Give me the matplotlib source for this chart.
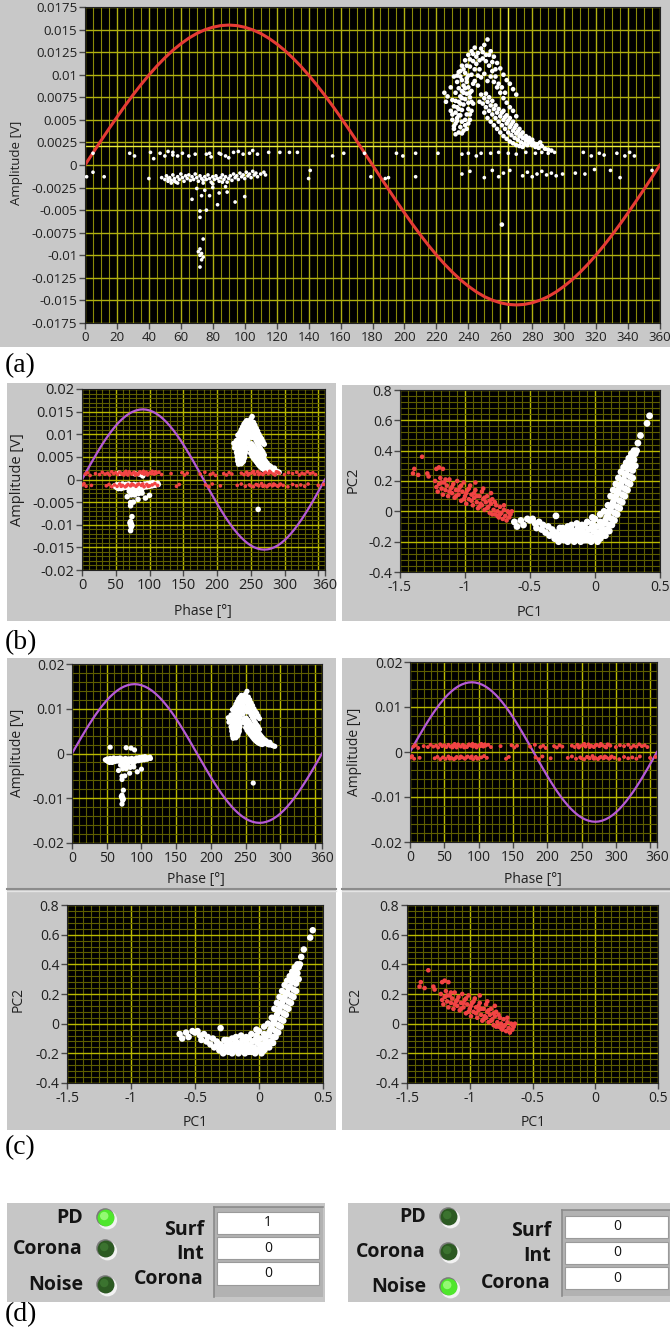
import matplotlib
matplotlib.use('Agg')
import matplotlib.pyplot as plt
from matplotlib.patches import Rectangle, Circle
import numpy as np

W, H = 670, 1339
plt.rcParams['font.family'] = ['Open Sans', 'DejaVu Sans']

# ---------------- data ----------------
SINE_PHASE = list(range(0, 361, 5))
SINE_MV = [0, 1.35, 2.69, 4.01, 5.30, 6.55, 7.75, 8.89, 9.96, 10.96, 11.87, 12.70, 13.42, 14.05, 14.57, 14.97, 15.26, 15.44, 15.50,
           15.44, 15.26, 14.97, 14.57, 14.05, 13.42, 12.70, 11.87, 10.96, 9.96, 8.89, 7.75, 6.55, 5.30, 4.01, 2.69, 1.35, 0,
           -1.35, -2.69, -4.01, -5.30, -6.55, -7.75, -8.89, -9.96, -10.96, -11.87, -12.70, -13.42, -14.05, -14.57, -14.97, -15.26, -15.44, -15.50,
           -15.44, -15.26, -14.97, -14.57, -14.05, -13.42, -12.70, -11.87, -10.96, -9.96, -8.89, -7.75, -6.55, -5.30, -4.01, -2.69, -1.35, 0]

# PD pulses (phase deg, amplitude mV)
PD_UPPER = [(231, 4.0), (232, 4.6), (233, 5.2), (232, 5.8), (233, 6.4), (234, 7.0), (235, 7.6), (236, 8.2), (237, 8.8),
            (234, 3.6), (235, 4.2), (236, 4.8), (235, 5.5), (236, 6.1), (237, 6.7), (238, 7.3), (239, 7.9), (240, 8.6),
            (237, 3.8), (238, 4.4), (238, 5.0), (239, 5.6), (240, 6.2), (240, 6.9), (241, 7.5), (242, 8.2), (243, 9.0),
            (234, 8.5), (233, 9.2), (235, 9.8), (232, 8.0), (230, 7.2), (229, 6.0), (230, 5.0), (241, 5.0), (242, 6.0), (243, 6.8),
            (231, 4.3), (233, 4.9), (234, 5.5), (234, 6.2), (235, 6.8), (236, 7.4), (237, 8.0), (238, 8.5), (239, 9.2),
            (240, 9.9), (232, 7.1), (231, 6.5), (230, 5.6), (232, 3.4), (236, 3.5), (239, 4.0), (240, 4.6), (241, 5.6),
            (242, 7.0), (241, 8.0),
            (234, 10.3), (236, 11.0), (238, 11.6), (240, 12.2), (242, 12.6), (244, 13.0), (246, 12.4), (248, 12.9), (250, 13.3),
            (252, 13.9), (254, 12.6), (256, 12.0), (258, 11.3), (260, 10.7), (262, 10.0), (264, 9.4), (238, 10.2), (241, 10.9),
            (243, 11.5), (245, 11.2), (247, 10.6), (249, 11.8), (251, 12.2), (253, 11.0), (255, 10.4), (257, 9.8), (259, 9.0),
            (261, 8.6), (263, 8.0), (266, 9.0), (268, 8.4), (270, 7.8), (236, 9.4), (239, 9.6), (242, 10.0), (244, 9.3),
            (246, 8.8), (248, 9.7), (250, 10.1), (252, 9.3), (225, 8.0), (227, 7.6), (229, 8.6), (231, 9.8), (226, 7.0),
            (245, 12.0), (247, 11.6), (249, 12.5), (251, 11.5), (253, 12.2), (255, 11.4), (257, 10.6), (243, 12.3),
            (241, 11.7), (239, 11.0), (237, 10.6), (235, 10.4), (233, 9.9), (246, 9.9), (244, 10.6), (254, 9.8),
            (256, 9.2), (258, 8.6), (260, 8.0), (262, 7.4), (264, 6.9), (266, 6.4), (268, 6.0), (270, 5.4),
            (247, 7.0), (248, 7.8), (249, 6.8), (250, 7.4), (251, 6.4), (252, 7.0), (253, 6.0), (254, 6.6), (255, 5.6),
            (256, 6.2), (257, 5.2), (258, 5.8), (259, 4.8), (260, 5.4), (261, 4.4), (262, 5.0), (263, 4.0), (264, 4.6),
            (265, 3.6), (266, 4.2), (267, 3.3), (268, 3.8), (269, 3.0), (270, 3.5), (271, 2.8), (272, 3.2), (273, 2.5),
            (274, 3.0), (275, 2.3), (276, 2.7), (277, 2.2), (278, 2.5), (250, 5.8), (252, 5.2), (254, 4.8), (256, 4.4),
            (258, 4.0), (260, 3.6), (262, 3.2), (264, 2.9), (266, 2.6), (268, 2.4), (270, 2.2), (272, 2.1), (274, 2.0),
            (280, 2.2), (282, 2.0), (284, 1.9), (286, 2.1), (288, 1.8), (290, 1.7), (292, 1.6), (270, 4.4), (272, 4.0),
            (274, 3.6), (276, 3.2), (278, 3.0), (280, 2.8), (266, 5.2), (268, 4.8), (262, 6.0), (264, 5.5),
            (251, 7.9), (253, 7.5), (255, 7.1), (257, 6.6), (259, 6.2), (261, 5.8), (263, 5.3), (265, 4.9), (267, 4.5),
            (269, 4.1), (271, 3.7), (273, 3.4), (275, 3.0), (277, 2.8), (279, 2.6), (281, 2.4), (283, 2.3), (285, 2.5),
            (261, -6.6)]

PD_LOWER = [(48, -1.4), (50, -1.6), (51, -1.2), (52, -1.8), (53, -1.4), (54, -1.7), (55, -1.1), (56, -1.5), (57, -1.9),
            (58, -1.3), (59, -1.6), (60, -1.0), (61, -1.4), (62, -1.8), (63, -1.2), (64, -1.5), (65, -1.1), (66, -1.7),
            (67, -1.3), (68, -1.6), (69, -1.0), (70, -1.4), (71, -1.8), (72, -1.2), (73, -1.5), (74, -1.7), (75, -1.3),
            (76, -1.6), (77, -1.1), (78, -1.5), (79, -1.9), (80, -1.3), (81, -1.6), (82, -1.2), (83, -1.5), (84, -1.8),
            (85, -1.4), (86, -1.1), (87, -1.6), (88, -1.3), (89, -1.9), (90, -1.5), (91, -1.2), (92, -1.7), (93, -1.0),
            (94, -1.4), (95, -1.2), (96, -1.6), (97, -0.9), (98, -1.3), (99, -1.1), (100, -1.5), (101, -0.8), (102, -1.2),
            (103, -1.0), (104, -1.4), (105, -0.7), (106, -1.1), (107, -0.9), (108, -1.3), (110, -1.0), (112, -0.8), (113, -1.1),
            (52, -1.5), (54, -2.0), (56, -1.8), (58, -2.0), (74, -2.0), (80, -2.1), (86, -1.9),
            (55, 1.4), (78, 1.3), (85, 1.2), (90, 0.8),
            (67, -3.8), (73, -3.4), (76, -5.0), (72, -5.1), (72, -5.8), (74, -8.2), (72, -9.3), (71, -9.6), (73, -9.8),
            (72, -10.0), (74, -10.2), (73, -10.5), (72, -11.3), (78, -3.4), (84, -3.1), (89, -3.0), (83, -4.4), (94, -4.1),
            (100, -3.5), (70, -2.6), (75, -2.8), (80, -2.5), (88, -2.4)]

# noise pulses shown in (a)
NOISE_A = [(5, 1.3), (28, 1.3), (31, 1.0), (41, 1.4), (43, 0.7), (47, 1.3), (50, 1.0), (52, 1.5), (55, 1.1), (58, 1.0),
           (61, 1.3), (65, 1.0), (69, 1.2), (76, 1.2), (79, 0.9), (84, 1.3), (88, 1.0), (93, 1.4), (96, 1.5), (99, 1.2),
           (103, 1.3), (105, 1.6), (108, 1.2), (115, 1.4), (122, 1.4), (128, 1.4), (133, 1.4), (155, 1.0), (162, 1.3),
           (175, 1.3), (195, 1.3), (199, 1.0), (207, 1.3), (221, 1.3), (236, 1.2), (240, 1.3), (245, 1.0), (248, 1.3),
           (254, 1.3), (259, 1.4), (265, 1.3), (270, 1.2), (276, 1.4), (282, 1.3), (286, 1.4), (290, 1.3), (294, 1.4),
           (312, 1.4), (317, 1.0), (322, 1.3), (325, 1.1), (333, 1.3), (338, 1.0), (341, 1.4), (344, 1.0),
           (1, -1.3), (5, -0.8), (12, -1.3), (40, -1.5), (140, -1.5), (141, -0.6), (179, -1.3), (188, -1.5), (190, -1.4),
           (207, -1.3), (236, -1.0), (241, -0.7), (250, -1.4), (255, -0.6), (259, -1.3), (262, -0.9), (266, -0.6),
           (274, -1.2), (277, -0.8), (280, -1.3), (283, -1.0), (286, -0.7), (289, -1.1), (292, -0.9), (295, -1.2),
           (299, -1.0), (307, -0.9), (313, -1.0), (319, -0.5), (329, -0.6), (335, -1.4), (355, -0.6)]

# noise pulses shown in (b) and (c)
NOISE_BC = [(5, 1.2), (8, 1.5), (12, 0.9), (20, 1.3), (26, 1.1), (30, 1.6), (34, 1.2), (38, 1.4), (41, 1.0), (44, 1.7),
            (47, 1.3), (50, 1.5), (53, 1.1), (56, 1.6), (59, 1.2), (62, 1.4), (65, 1.8), (68, 1.0), (71, 1.5), (74, 1.2),
            (77, 1.6), (80, 1.3), (83, 1.1), (86, 1.7), (89, 1.4), (92, 1.2), (95, 1.6), (98, 1.3), (101, 1.5), (104, 1.8),
            (107, 1.2), (110, 1.4), (114, 1.6), (118, 1.1), (132, 1.3), (148, 1.5), (152, 1.0), (156, 1.4), (175, 1.2),
            (182, 1.6), (190, 1.1), (194, 1.4), (198, 0.9), (210, 1.3), (214, 1.0), (218, 1.5), (222, 1.2), (236, 1.4),
            (240, 1.1), (244, 1.6), (248, 1.3), (252, 1.5), (256, 1.2), (260, 1.7), (264, 1.4), (268, 1.1), (272, 1.6),
            (276, 1.3), (280, 1.5), (284, 1.2), (288, 1.7), (292, 1.4), (300, 1.1), (306, 1.5), (312, 1.3), (318, 1.6),
            (322, 1.0), (326, 1.4), (330, 1.2), (334, 1.7), (338, 1.3), (342, 1.5), (346, 1.1),
            (1, -1.2), (3, -0.9), (6, -1.5), (14, -1.3), (36, -1.4), (40, -1.1), (44, -1.6), (48, -1.2), (52, -1.5),
            (56, -1.0), (60, -1.3), (64, -1.6), (68, -1.1), (72, -1.4), (76, -1.2), (80, -1.5), (84, -1.0), (88, -1.3),
            (92, -1.6), (96, -1.1), (100, -1.4), (104, -1.2), (108, -0.9), (112, -1.3), (140, -1.5), (144, -1.1),
            (183, -1.2), (188, -1.6), (193, -1.0), (205, -1.4), (230, -1.3), (236, -1.0), (242, -1.5), (248, -1.2),
            (254, -1.6), (258, -1.1), (262, -1.4), (266, -0.9), (270, -1.3), (274, -1.6), (278, -1.1), (282, -1.4),
            (286, -1.2), (290, -1.5), (294, -1.0), (298, -1.3), (305, -1.6), (312, -1.1), (318, -1.4), (324, -1.2),
            (330, -1.5), (335, -1.0), (350, -1.3), (358, -1.1),
            (62, 1.0), (66, 1.3), (70, 1.7), (79, 1.0), (85, 1.5), (91, 1.8), (97, 1.0), (103, 1.3), (109, 1.7),
            (246, 1.0), (254, 1.8), (262, 1.1), (270, 1.4), (278, 1.8), (286, 1.0), (290, 1.6), (58, -1.5), (66, -1.4),
            (74, -1.0), (82, -1.2), (90, -1.0), (98, -1.5), (250, -1.4), (260, -1.2), (268, -1.5), (276, -1.3),
            (284, -1.0), (292, -1.3)]

# principal components (PC1, PC2)
PCA_PD = [(-0.62, -0.07), (-0.60, -0.10), (-0.57, -0.06), (-0.55, -0.09), (-0.52, -0.05), (-0.50, -0.06), (-0.48, -0.05),
          (-0.46, -0.08), (-0.45, -0.11), (-0.43, -0.07), (-0.41, -0.12), (-0.40, -0.09), (-0.38, -0.14), (-0.36, -0.10),
          (-0.35, -0.16), (-0.33, -0.12), (-0.31, -0.18), (-0.30, -0.03), (-0.30, -0.14), (-0.28, -0.20), (-0.27, -0.11),
          (-0.25, -0.17),
          (-0.26, -0.15), (-0.24, -0.19), (-0.23, -0.13), (-0.22, -0.17), (-0.21, -0.20), (-0.20, -0.14), (-0.19, -0.18),
          (-0.18, -0.12), (-0.17, -0.16), (-0.16, -0.20), (-0.15, -0.14), (-0.14, -0.18), (-0.13, -0.11), (-0.12, -0.16),
          (-0.11, -0.20), (-0.10, -0.13), (-0.09, -0.17), (-0.08, -0.10), (-0.07, -0.15), (-0.06, -0.19), (-0.05, -0.12),
          (-0.04, -0.16), (-0.03, -0.20), (-0.02, -0.08), (-0.01, -0.13), (0.00, -0.17), (0.01, -0.10), (0.02, -0.20),
          (0.03, -0.14), (0.04, -0.18), (0.05, -0.11), (-0.18, -0.09), (-0.14, -0.08), (-0.10, -0.09), (-0.06, -0.07),
          (-0.02, -0.04), (0.00, -0.05), (-0.21, -0.10), (-0.25, -0.11), (-0.08, -0.19), (-0.12, -0.19), (-0.16, -0.17),
          (-0.20, -0.17), (0.02, -0.16), (-0.04, -0.19), (-0.01, -0.18), (0.04, -0.07), (0.06, -0.16),
          (0.04, -0.02), (0.05, -0.08), (0.06, -0.14), (0.07, 0.00), (0.08, -0.06), (0.09, -0.12), (0.10, 0.04),
          (0.10, -0.03), (0.11, -0.09), (0.12, 0.10), (0.12, 0.02), (0.13, -0.05), (0.14, 0.14), (0.14, 0.06),
          (0.15, -0.01), (0.16, 0.18), (0.16, 0.10), (0.17, 0.03), (0.18, 0.22), (0.18, 0.14), (0.19, 0.07),
          (0.20, 0.26), (0.20, 0.18), (0.21, 0.11), (0.22, 0.29), (0.22, 0.21), (0.23, 0.15), (0.24, 0.32),
          (0.24, 0.25), (0.25, 0.19), (0.26, 0.35), (0.26, 0.28), (0.27, 0.23), (0.28, 0.38), (0.28, 0.31),
          (0.29, 0.27), (0.30, 0.40), (0.30, 0.34), (0.31, 0.38), (0.33, 0.45), (0.35, 0.50), (0.40, 0.58), (0.42, 0.63),
          (0.05, -0.16), (0.07, -0.13), (0.08, -0.16), (0.11, -0.13), (0.13, -0.09), (0.15, -0.06), (0.17, -0.02),
          (0.19, 0.02), (0.21, 0.06), (0.23, 0.10), (0.25, 0.14), (0.27, 0.18), (0.29, 0.22), (0.31, 0.30),
          (0.32, 0.40), (0.29, 0.36), (0.27, 0.32), (0.25, 0.29), (0.23, 0.24), (0.21, 0.20), (0.19, 0.16),
          (0.17, 0.12), (0.15, 0.08), (0.13, 0.04), (0.11, 0.00), (0.09, -0.04), (0.07, -0.08), (-0.09, -0.14),
          (-0.13, -0.15), (-0.17, -0.13), (-0.03, -0.11), (0.01, -0.14), (-0.22, -0.14), (-0.33, -0.15), (-0.29, -0.17)]

PCA_NOISE = [(-1.40, 0.25), (-1.39, 0.28), (-1.36, 0.24), (-1.33, 0.36), (-1.29, 0.25), (-1.28, 0.23), (-1.22, 0.28),
             (-1.20, 0.29), (-1.17, 0.28), (-1.23, 0.20), (-1.22, 0.16), (-1.21, 0.13), (-1.20, 0.18), (-1.19, 0.22),
             (-1.18, 0.15), (-1.17, 0.11), (-1.16, 0.19), (-1.15, 0.14), (-1.14, 0.17), (-1.13, 0.10), (-1.12, 0.21),
             (-1.11, 0.15), (-1.10, 0.12), (-1.09, 0.18), (-1.08, 0.09), (-1.07, 0.14), (-1.06, 0.20), (-1.05, 0.11),
             (-1.04, 0.16), (-1.03, 0.07), (-1.02, 0.13), (-1.01, 0.19), (-1.00, 0.10), (-0.99, 0.05), (-0.98, 0.14),
             (-0.97, 0.08), (-0.96, 0.17), (-0.95, 0.11), (-0.94, 0.04), (-0.93, 0.09), (-0.92, 0.14), (-0.91, 0.06),
             (-0.90, 0.02), (-0.89, 0.10), (-0.88, 0.05), (-0.87, 0.13), (-0.86, 0.08), (-0.85, 0.01), (-0.84, 0.06),
             (-0.83, 0.10), (-0.82, 0.03), (-0.81, -0.01), (-0.80, 0.05), (-0.79, 0.08), (-0.78, 0.01), (-0.77, -0.02),
             (-0.76, 0.04), (-0.75, 0.00), (-0.74, -0.04), (-0.73, 0.03), (-0.72, -0.01), (-0.71, -0.05), (-0.70, 0.01),
             (-0.69, -0.03), (-0.68, -0.06), (-0.67, 0.00), (-0.66, -0.04), (-0.65, -0.02), (-0.64, 0.00),
             (-1.18, 0.19), (-1.15, 0.21), (-1.12, 0.13), (-1.10, 0.16), (-1.07, 0.10), (-1.05, 0.14), (-1.03, 0.17),
             (-1.01, 0.08), (-0.99, 0.12), (-0.97, 0.15), (-0.95, 0.07), (-0.93, 0.12), (-0.91, 0.10), (-0.89, 0.03),
             (-0.87, 0.04), (-0.85, 0.09), (-0.83, 0.02), (-0.81, 0.07), (-0.79, -0.02), (-0.77, 0.06), (-0.75, -0.03),
             (-0.73, -0.02), (-0.80, 0.12), (-0.86, 0.15), (-0.92, 0.19), (-0.70, 0.04), (-0.66, -0.01)]

CURSOR_PHASE = 265
CURSOR_MV = 2.1

# tick values / labels
A_XTICKS = list(range(0, 361, 20))
A_YTICKS = [-0.0175, -0.015, -0.0125, -0.01, -0.0075, -0.005, -0.0025, 0, 0.0025, 0.005, 0.0075, 0.01, 0.0125, 0.015, 0.0175]
A_YLABELS = ['-0.0175', '-0.015', '-0.0125', '-0.01', '-0.0075', '-0.005', '-0.0025', '0', '0.0025', '0.005', '0.0075',
             '0.01', '0.0125', '0.015', '0.0175']
PH_TICKS = [0, 50, 100, 150, 200, 250, 300, 350, 360]
PH_LABELS = ['0', '50', '100', '150', '200', '250', '300', '', '360']
B_YTICKS = [-0.02, -0.015, -0.01, -0.005, 0, 0.005, 0.01, 0.015, 0.02]
B_YLABELS = ['-0.02', '-0.015', '-0.01', '-0.005', '0', '0.005', '0.01', '0.015', '0.02']
C_YTICKS = [-0.02, -0.01, 0, 0.01, 0.02]
C_YLABELS = ['-0.02', '-0.01', '0', '0.01', '0.02']
PC1_TICKS = [-1.5, -1, -0.5, 0, 0.5]
PC1_LABELS = ['-1.5', '-1', '-0.5', '0', '0.5']
PC2_TICKS = [-0.4, -0.2, 0, 0.2, 0.4, 0.6, 0.8]
PC2_LABELS = ['-0.4', '-0.2', '0', '0.2', '0.4', '0.6', '0.8']

LED_NAMES = ['PD', 'Corona', 'Noise']
LED_LEFT = [1, 0, 0]
LED_RIGHT = [0, 0, 1]
CLASS_NAMES = ['Surf', 'Int', 'Corona']
COUNT_LEFT = ['1', '0', '0']
COUNT_RIGHT = ['0', '0', '0']

# ---------------- helpers ----------------
def xy(pairs, scale=1.0):
    a = np.array(pairs, dtype=float)
    return a[:, 0], a[:, 1] * scale

GRAY = '#c8c8c8'
WHITE_PT = '#ffffff'
RED_PT = '#f24444'
SINE_RED = '#e63b35'
SINE_PURPLE = '#b65ad6'

fig = plt.figure(figsize=(W / 100, H / 100), dpi=100)
fig.patch.set_facecolor('white')
ov = fig.add_axes([0, 0, 1, 1])
ov.set_xlim(0, W)
ov.set_ylim(H, 0)
ov.axis('off')
ov.set_zorder(0)


def px_axes(l, t, r, b):
    ax = fig.add_axes([l / W, 1 - b / H, (r - l) / W, (b - t) / H])
    ax.set_zorder(2)
    return ax


def style(ax, xlim, ylim, xmaj, xlab, ymaj, ylab, xmin, ymin, fs, majc, minc):
    ax.set_facecolor('black')
    ax.set_xticks(xmaj)
    ax.set_xticklabels(xlab)
    ax.set_yticks(ymaj)
    ax.set_yticklabels(ylab)
    ax.set_xticks(xmin, minor=True)
    ax.set_yticks(ymin, minor=True)
    ax.set_xlim(*xlim)
    ax.set_ylim(*ylim)
    ax.grid(True, which='minor', color=minc, lw=0.8)
    ax.grid(True, which='major', color=majc, lw=1.0)
    ax.set_axisbelow(True)
    ax.tick_params(which='minor', length=0)
    ax.tick_params(which='major', direction='out', length=4, width=1, color='#4a4a4a',
                   labelsize=fs, labelcolor='#202020', pad=1.5)
    for s in ax.spines.values():
        s.set_color('#222222')


def box(l, t, r, b, color=GRAY):
    ov.add_patch(Rectangle((l, t), r - l, b - t, facecolor=color, edgecolor='none'))


def panel_label(y, s):
    ov.text(5, y, s, family='Liberation Serif', fontsize=20, va='center', ha='left', color='black')


def vlabel(x, y, s, fs):
    ov.text(x, y, s, rotation=90, ha='center', va='center', fontsize=fs, color='#202020')


def hlabel(x, y, s, fs):
    ov.text(x, y, s, ha='center', va='center', fontsize=fs, color='#202020')


phase_minor = list(range(0, 361, 10))
amp_b_minor = list(np.arange(-20, 21, 1) * 1e-3)
amp_c_minor = list(np.arange(-20, 21, 2) * 1e-3)
pc1_minor = list(np.arange(-1.5, 0.51, 0.0625))
pc2_minor = list(np.arange(-0.4, 0.81, 0.04))

MAJ = '#b9b900'
MIN = '#5e5e00'

sx, sy = SINE_PHASE, np.array(SINE_MV) * 1e-3

# ---------------- (a) ----------------
box(0, 0, 670, 347)
axa = px_axes(85, 7, 660, 323)
style(axa, (0, 360), (-0.0175, 0.0175), A_XTICKS, [str(v) for v in A_XTICKS], A_YTICKS, A_YLABELS,
      list(range(0, 361, 5)), [], 9.5, '#b0b010', '#8a8a08')
axa.axvline(CURSOR_PHASE, color='#eded3a', lw=1.0)
axa.axhline(CURSOR_MV * 1e-3, color='#eded3a', lw=1.0)
axa.plot(sx, sy, color=SINE_RED, lw=2.2)
x, y = xy(PD_UPPER, 1e-3)
axa.scatter(x, y, s=11, color=WHITE_PT, edgecolors='none', zorder=4)
for pairs in (PD_LOWER, NOISE_A):
    x, y = xy(pairs, 1e-3)
    axa.scatter(x, y, s=7, color=WHITE_PT, edgecolors='none', zorder=4)
vlabel(17, 163, 'Amplitude [V]', 9.5)
panel_label(366, '(a)')

# ---------------- (b) ----------------
box(7, 383, 336, 621)
box(342, 385, 670, 621)
axb1 = px_axes(82, 389, 325, 570)
style(axb1, (0, 360), (-0.02, 0.02), PH_TICKS, PH_LABELS, B_YTICKS, B_YLABELS,
      phase_minor, amp_b_minor, 10.5, MAJ, MIN)
axb1.plot(sx, sy, color=SINE_PURPLE, lw=1.6)
for pairs in (PD_UPPER, PD_LOWER):
    x, y = xy(pairs, 1e-3)
    axb1.scatter(x, y, s=16, color=WHITE_PT, edgecolors='none', zorder=4)
x, y = xy(NOISE_BC, 1e-3)
axb1.scatter(x, y, s=7, color=RED_PT, edgecolors='none', zorder=5)
vlabel(18, 480, 'Amplitude [V]', 10.5)
hlabel(203, 612, 'Phase [°]', 10)

axb2 = px_axes(400, 390, 660, 572)
style(axb2, (-1.5, 0.5), (-0.4, 0.8), PC1_TICKS, PC1_LABELS, PC2_TICKS, PC2_LABELS,
      pc1_minor, pc2_minor, 10, MAJ, MIN)
x, y = xy(PCA_PD)
axb2.scatter(x, y, s=24, color=WHITE_PT, edgecolors='none', zorder=4)
x, y = xy(PCA_NOISE)
axb2.scatter(x, y, s=11, color=RED_PT, edgecolors='none', zorder=5)
vlabel(353, 480, 'PC2', 10.5)
hlabel(530, 613, 'PC1', 10.5)
panel_label(643, '(b)')

# ---------------- (c) ----------------
box(7, 658, 336, 1130)
box(342, 658, 670, 1130)
for (l, r) in ((7, 336), (342, 670)):
    ov.plot([l, r], [889, 889], color='#8c8c8c', lw=1.5)
    ov.plot([l, r], [891, 891], color='#e4e4e4', lw=1.0)

axc1 = px_axes(72, 664, 322, 843)
style(axc1, (0, 360), (-0.02, 0.02), PH_TICKS, PH_LABELS, C_YTICKS, C_YLABELS,
      phase_minor, amp_c_minor, 10, MAJ, MIN)
axc1.plot(sx, sy, color=SINE_PURPLE, lw=1.6)
for pairs in (PD_UPPER, PD_LOWER):
    x, y = xy(pairs, 1e-3)
    axc1.scatter(x, y, s=14, color=WHITE_PT, edgecolors='none', zorder=4)
vlabel(18, 753, 'Amplitude [V]', 10)
hlabel(196, 880, 'Phase [°]', 10)

axc2 = px_axes(410, 662, 657, 842)
style(axc2, (0, 360), (-0.02, 0.02), PH_TICKS, PH_LABELS, C_YTICKS, C_YLABELS,
      phase_minor, amp_c_minor, 10, MAJ, MIN)
axc2.plot(sx, sy, color=SINE_PURPLE, lw=1.6)
x, y = xy(NOISE_BC, 1e-3)
axc2.scatter(x, y, s=8, color=RED_PT, edgecolors='none', zorder=5)
vlabel(355, 752, 'Amplitude [V]', 10)
hlabel(533, 880, 'Phase [°]', 10)

axc3 = px_axes(67, 905, 323, 1083)
style(axc3, (-1.5, 0.5), (-0.4, 0.8), PC1_TICKS, PC1_LABELS, PC2_TICKS, PC2_LABELS,
      pc1_minor, pc2_minor, 10, MAJ, MIN)
x, y = xy(PCA_PD)
axc3.scatter(x, y, s=22, color=WHITE_PT, edgecolors='none', zorder=4)
vlabel(18, 1000, 'PC2', 10)
hlabel(195, 1122, 'PC1', 10)

axc4 = px_axes(407, 905, 658, 1083)
style(axc4, (-1.5, 0.5), (-0.4, 0.8), PC1_TICKS, PC1_LABELS, PC2_TICKS, PC2_LABELS,
      pc1_minor, pc2_minor, 10, MAJ, MIN)
x, y = xy(PCA_NOISE)
axc4.scatter(x, y, s=11, color=RED_PT, edgecolors='none', zorder=5)
vlabel(355, 1000, 'PC2', 10)
hlabel(533, 1122, 'PC1', 10)
panel_label(1148, '(c)')

# ---------------- (d) ----------------
def indicator_panel(l, r, label_x, led_x, led_ys, leds, cls_x, cls_ys, frame, rows, val_x, counts):
    box(l, 1203, r, 1302, '#c6c6c6')
    for name, on, yy in zip(LED_NAMES, leds, led_ys):
        ov.text(label_x, yy, name, ha='right', va='center', fontsize=14, fontweight='bold', color='#141414')
        ov.add_patch(Circle((led_x + 1.5, yy + 1.8), 9.6, facecolor='#f2f2f2', edgecolor='none'))
        ov.add_patch(Circle((led_x - 0.8, yy - 0.8), 9.0, facecolor='#7a7a7a', edgecolor='none'))
        main = '#4fe62c' if on else '#2c5a22'
        hi = '#a6ff86' if on else '#3f7a33'
        ov.add_patch(Circle((led_x, yy), 8.4, facecolor=main, edgecolor='none'))
        ov.add_patch(Circle((led_x - 1.8, yy - 2.0), 4.2, facecolor=hi, edgecolor='none', alpha=0.8))
    fl, ft, fr, fb = frame
    ov.add_patch(Rectangle((fl, ft), fr - fl, fb - ft, facecolor='#b2b2b2', edgecolor='none'))
    ov.plot([fl, fr], [ft, ft], color='#8a8a8a', lw=1.2)
    ov.plot([fl, fl], [ft, fb], color='#8a8a8a', lw=1.2)
    for name, yy in zip(CLASS_NAMES, cls_ys):
        ov.text(cls_x, yy, name, ha='right', va='center', fontsize=14, fontweight='bold', color='#141414')
    for (rt, rb), val in zip(rows, counts):
        ov.add_patch(Rectangle((fl + 3, rt), fr - fl - 7, rb - rt, facecolor='white', edgecolor='#9a9a9a', lw=0.8))
        ov.text(val_x, (rt + rb) / 2, val, ha='center', va='center', fontsize=10, color='#111111')


indicator_panel(7, 325, 83, 106, [1218, 1249, 1285], LED_LEFT, 204, [1230, 1254, 1279],
                (214, 1207, 323, 1297), [(1212, 1234), (1237, 1259), (1262, 1285)], 268, COUNT_LEFT)
indicator_panel(348, 670, 426, 449, [1217, 1252, 1287], LED_RIGHT, 551, [1231, 1256, 1283],
                (562, 1210, 672, 1296), [(1216, 1238), (1242, 1264), (1267, 1289)], 617, COUNT_RIGHT)
panel_label(1315, '(d)')

fig.savefig('out.png', dpi=100, facecolor='white')
